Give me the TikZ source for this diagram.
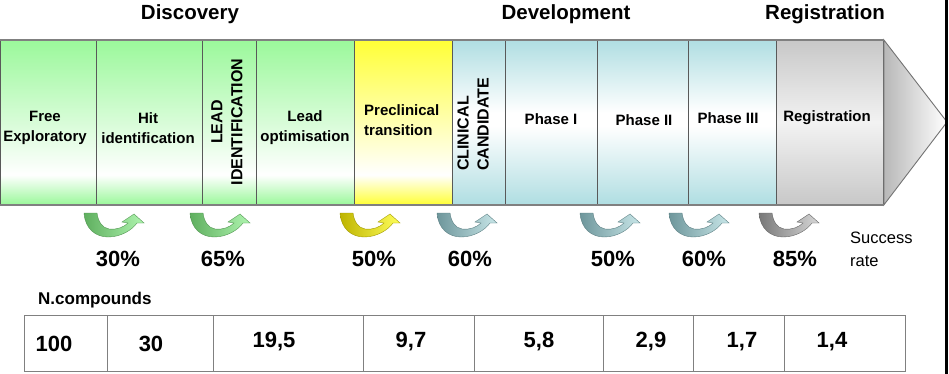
\documentclass[tikz,border=0pt]{standalone}
\usepackage{fontspec}
\setmainfont{Liberation Sans}
\definecolor{gA}{RGB}{155,248,155}
\definecolor{yA}{RGB}{255,255,55}
\definecolor{bA}{RGB}{176,222,226}
\definecolor{kA}{RGB}{200,200,200}
\definecolor{gD}{RGB}{95,175,95}\definecolor{gL}{RGB}{175,245,175}
\definecolor{yD}{RGB}{190,180,0}\definecolor{yL}{RGB}{255,255,90}
\definecolor{bD}{RGB}{110,150,155}\definecolor{bL}{RGB}{200,230,232}
\definecolor{kD}{RGB}{120,120,120}\definecolor{kL}{RGB}{215,215,215}
\pgfdeclareverticalshading{greensh}{100bp}{color(0bp)=(gA); color(25bp)=(gA); color(34bp)=(white); color(75bp)=(gA); color(100bp)=(gA)}
\pgfdeclareverticalshading{yellowsh}{100bp}{color(0bp)=(yA); color(25bp)=(yA); color(34bp)=(white); color(75bp)=(yA); color(100bp)=(yA)}
\pgfdeclareverticalshading{bluesh}{100bp}{color(0bp)=(bA); color(25bp)=(bA); color(49bp)=(white); color(53bp)=(white); color(75bp)=(bA); color(100bp)=(bA)}
\pgfdeclareverticalshading{graysh}{100bp}{color(0bp)=(kA); color(25bp)=(kA); color(50bp)=(black!5); color(75bp)=(kA); color(100bp)=(kA)}
\newcommand\uturnarrow[4]{%
  \begin{scope}[shift={(#1,212)}]
    \shade[left color=#2, right color=#3, draw=#2!85!black, line width=0.4pt]
      (0,1) .. controls (1,17) and (12,25) .. (24,25)
            .. controls (37,25) and (48,18) .. (53,11)
      -- (60,11) -- (50,2) -- (38,10) -- (44,11)
            .. controls (40,15) and (33,18) .. (25,17)
            .. controls (18,16) and (14,9) .. (13,1) -- cycle;
    \coordinate (#4) at (30,20);
  \end{scope}}
\begin{document}
\begin{tikzpicture}[x=1pt,y=-1pt,
  cellbox/.style={draw=black!65, line width=0.9pt, minimum height=164pt, inner sep=0pt, anchor=north west},
  tcell/.style={draw=black!50, line width=1.2pt, minimum height=56pt, inner sep=0pt, anchor=north west},
  title/.style={font=\fontsize{20.5}{24}\selectfont\bfseries, inner sep=0pt},
  lbl/.style={font=\fontsize{15}{20}\selectfont\bfseries, align=center, inner sep=0pt},
  rot/.style={font=\fontsize{16}{20}\selectfont\bfseries, rotate=90, inner sep=0pt},
  pct/.style={font=\fontsize{22}{24}\selectfont\bfseries, inner sep=0pt},
  val/.style={font=\fontsize{22}{24}\selectfont\bfseries, inner sep=0pt}]
\useasboundingbox (0,0) rectangle (949,374);
\fill[white] (0,0) rectangle (949,374);
% titles
\node[title] (tDisc) at (190,14) {Discovery};
\node[title] (tDev) at (566,14) {Development};
\node[title] (tReg) at (825,14) {Registration};
% cells
\node[cellbox, shading=greensh, minimum width=96pt] (c1) at (0,40) {};
\node[cellbox, shading=greensh, minimum width=106pt] (c2) at (96,40) {};
\node[cellbox, shading=greensh, minimum width=54pt] (c3) at (202,40) {};
\node[cellbox, shading=greensh, minimum width=98pt] (c4) at (256,40) {};
\node[cellbox, shading=yellowsh, minimum width=98pt] (c5) at (354,40) {};
\node[cellbox, shading=bluesh, minimum width=53pt] (c6) at (452,40) {};
\node[cellbox, shading=bluesh, minimum width=92pt] (c7) at (505,40) {};
\node[cellbox, shading=bluesh, minimum width=91pt] (c8) at (597,40) {};
\node[cellbox, shading=bluesh, minimum width=88pt] (c9) at (688,40) {};
\node[cellbox, shading=graysh, minimum width=107pt] (c10) at (776,40) {};
\coordinate (tip) at (947,122);
\shade[left color=black!28, right color=white, draw=black!55, line width=0.9pt]
  (c10.north east) -- (tip) -- (c10.south east) -- cycle;
\draw[black!50, line width=1.8pt] (c1.north west) -- (c10.north east);
\draw[black!50, line width=1.8pt] (c1.south west) -- (c10.south east);
% cell labels
\node[lbl] (l1) at (45,128) {Free\\Exploratory};
\node[lbl] (l2) at (148,128) {Hit\\identification};
\node[rot, align=center] (l3) at (227,122) {LEAD\\IDENTIFICATION};
\node[lbl] (l4) at (305,128) {Lead\\optimisation};
\node[lbl, align=left, anchor=west] (l5) at (364,120) {Preclinical\\transition};
\node[rot, align=left, anchor=west] (l6) at (473,171) {CLINICAL\\CANDIDATE};
\node[lbl] (l7) at (551,119) {Phase I};
\node[lbl] (l8) at (644,120) {Phase II};
\node[lbl] (l9) at (728,118) {Phase III};
\node[lbl] (l10) at (827,118) {Registration};
% u-turn arrows
\uturnarrow{84}{gD}{gL}{a1}
\uturnarrow{190}{gD}{gL}{a2}
\uturnarrow{340}{yD}{yL}{a3}
\uturnarrow{437}{bD}{bL}{a4}
\uturnarrow{580}{bD}{bL}{a5}
\uturnarrow{669}{bD}{bL}{a6}
\uturnarrow{759}{kD}{kL}{a7}
% percentages
\node[pct] (p1) at (118,259) {30\%};
\node[pct] (p2) at (223,259) {65\%};
\node[pct] (p3) at (374,259) {50\%};
\node[pct] (p4) at (470,259) {60\%};
\node[pct] (p5) at (613,259) {50\%};
\node[pct] (p6) at (704,259) {60\%};
\node[pct] (p7) at (795,259) {85\%};
\node[font=\fontsize{16.5}{23}\selectfont, align=left, anchor=west, inner sep=0pt] (sr) at (850,249) {Success\\rate};
% compounds table
\node[font=\fontsize{17}{20}\selectfont\bfseries, anchor=west, inner sep=0pt] (nc) at (38,300) {N.compounds};
\node[tcell, minimum width=83pt] (t1) at (24,315) {};
\node[tcell, minimum width=106pt] (t2) at (107,315) {};
\node[tcell, minimum width=150pt] (t3) at (213,315) {};
\node[tcell, minimum width=111pt] (t4) at (363,315) {};
\node[tcell, minimum width=129pt] (t5) at (474,315) {};
\node[tcell, minimum width=90pt] (t6) at (603,315) {};
\node[tcell, minimum width=91pt] (t7) at (693,315) {};
\node[tcell, minimum width=121pt] (t8) at (784,315) {};
\node[val] (v1) at (54,344) {100};
\node[val] (v2) at (151,344) {30};
\node[val] (v3) at (274,342) {19,5};
\node[val] (v4) at (411,342) {9,7};
\node[val] (v5) at (539,342) {5,8};
\node[val] (v6) at (651,342) {2,9};
\node[val] (v7) at (742,342) {1,7};
\node[val] (v8) at (832,342) {1,4};
% right frame line
\coordinate (fr1) at (946.5,0);
\coordinate (fr2) at (946.5,374);
\draw[black, line width=2.5pt] (fr1) -- (fr2);
\end{tikzpicture}
\end{document}
